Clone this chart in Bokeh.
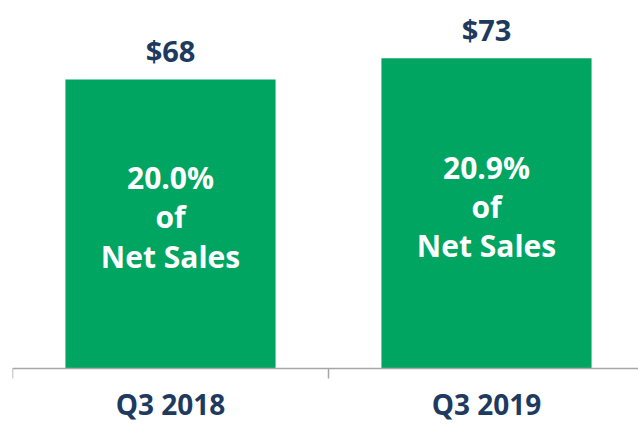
from bokeh.plotting import figure
from bokeh.models import ColumnDataSource, Range1d, FixedTicker, LinearAxis
from bokeh.core.properties import value
from bokeh.embed import file_html
from bokeh.resources import INLINE

categories = ["Q3 2018", "Q3 2019"]
amounts = [68, 73]
pct_of_sales = ["20.0%", "20.9%"]

GREEN = "#00A562"
NAVY = "#1E3A5F"
FONT = "Open Sans"

xs = [i + 0.5 for i in range(len(categories))]
src = ColumnDataSource(dict(
    x=xs,
    top=amounts,
    mid=[a / 2 for a in amounts],
    amt=[f"${a}" for a in amounts],
    inner=[f"{p}\nof\nNet Sales" for p in pct_of_sales],
))

PX = 4.25  # pixels per data unit
p = figure(width=638, height=425, output_backend="svg", toolbar_location=None,
           x_range=Range1d(0, 626 / 316), y_range=Range1d(-57 / PX, 368 / PX),
           min_border_left=12, min_border_right=0, min_border_top=0,
           min_border_bottom=0, x_axis_location=None, y_axis_location=None)
p.outline_line_color = None
p.xgrid.visible = False
p.ygrid.visible = False

p.vbar(x="x", top="top", width=0.665, source=src, fill_color=GREEN, line_color=None)

p.text(x="x", y="top", text="amt", source=src, text_align="center",
       text_baseline="middle", y_offset=-29, text_font=value(FONT),
       text_font_style="bold", text_font_size="29px", text_color=NAVY)

p.text(x="x", y="mid", text="inner", source=src, text_align="center",
       text_baseline="middle", y_offset=-7, text_font=value(FONT),
       text_font_style="bold", text_font_size="30px", text_color="white",
       text_line_height=0.96)

ax = LinearAxis(ticker=FixedTicker(ticks=xs, minor_ticks=list(range(len(categories) + 1))),
                fixed_location=0)
ax.major_label_overrides = {x: c for x, c in zip(xs, categories)}
ax.major_tick_line_color = None
ax.major_tick_out = 0
ax.major_tick_in = 0
ax.minor_tick_out = 10
ax.minor_tick_in = 0
ax.minor_tick_line_color = "#A6A6A6"
ax.axis_line_color = "#A6A6A6"
ax.axis_line_width = 1.5
ax.minor_tick_line_width = 1.5
ax.major_label_standoff = 6
ax.major_label_text_font = FONT
ax.major_label_text_font_style = "bold"
ax.major_label_text_font_size = "28px"
ax.major_label_text_color = NAVY
p.add_layout(ax, "below")

open("out.html", "w").write(file_html(p, INLINE))
